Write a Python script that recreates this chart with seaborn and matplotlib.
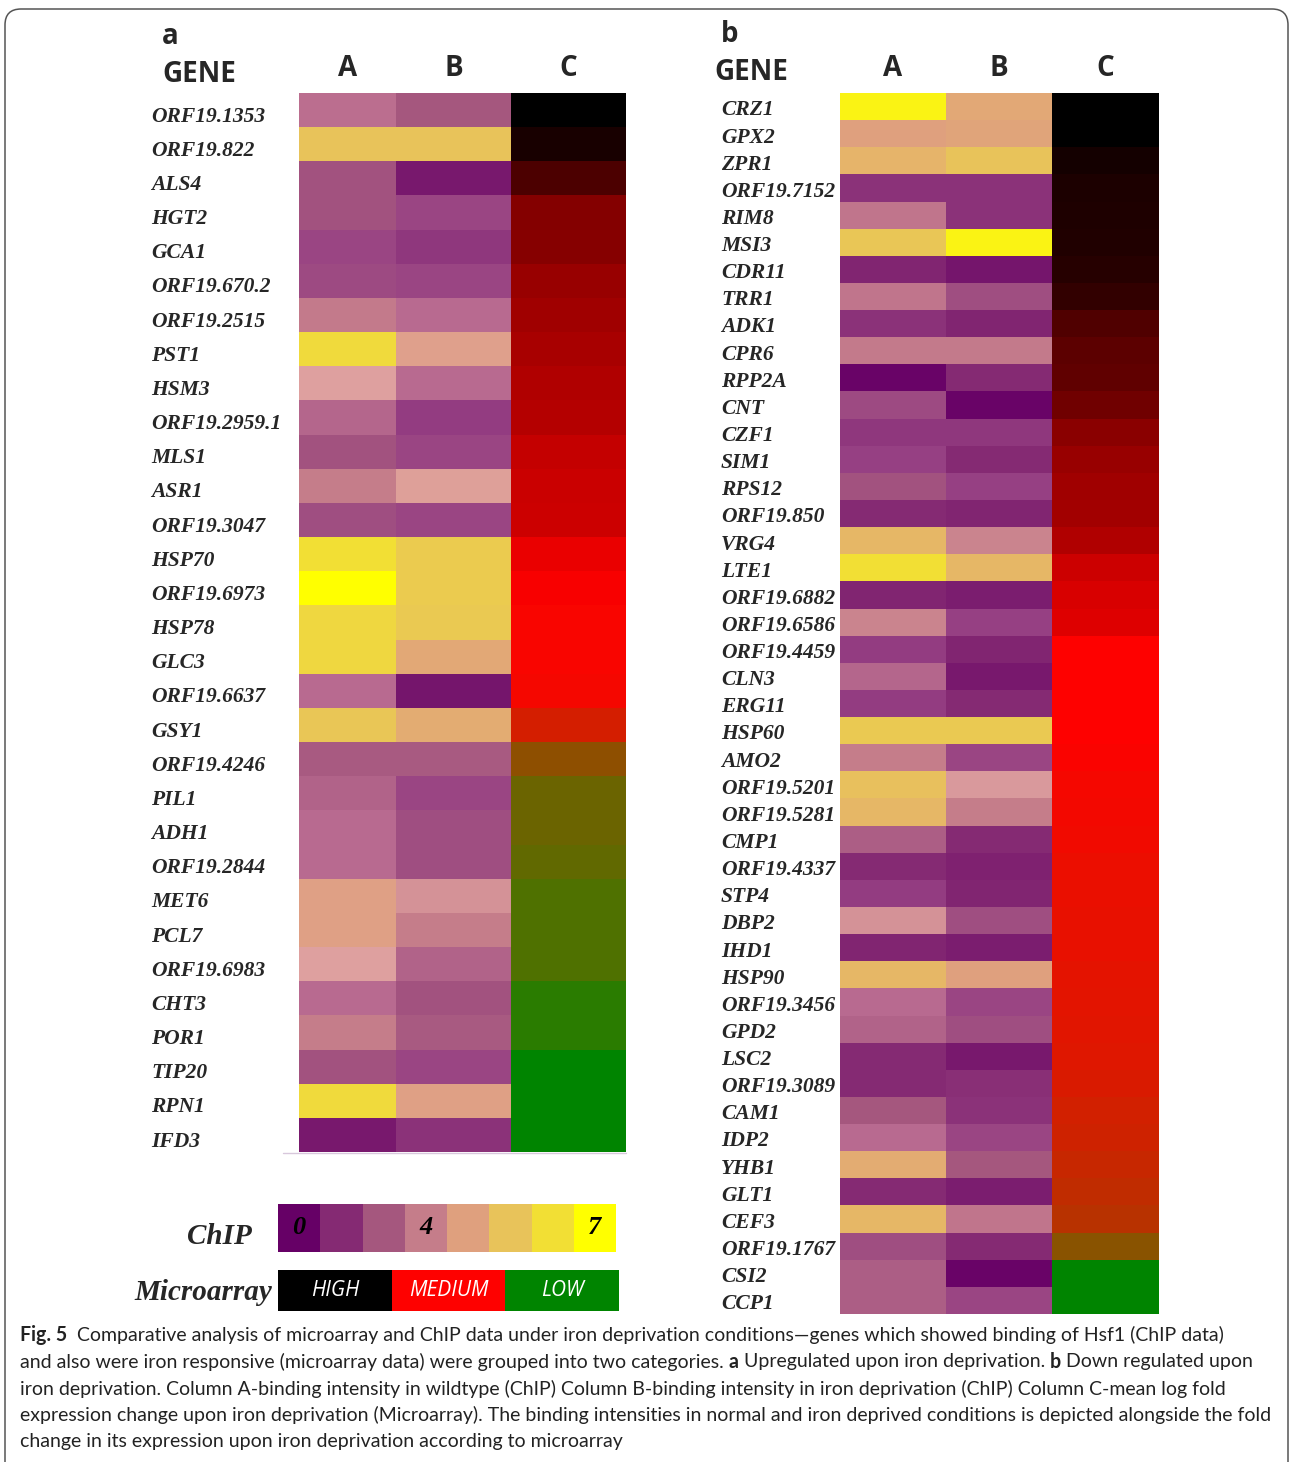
import numpy as np
import pandas as pd
import matplotlib
matplotlib.use("Agg")
import matplotlib.pyplot as plt
import matplotlib.transforms as mtransforms
from matplotlib.colors import LinearSegmentedColormap
from matplotlib.patches import FancyBboxPatch
import seaborn as sns

# ---------------- data ----------------
genes_a = ["ORF19.1353", "ORF19.822", "ALS4", "HGT2", "GCA1", "ORF19.670.2",
           "ORF19.2515", "PST1", "HSM3", "ORF19.2959.1", "MLS1", "ASR1",
           "ORF19.3047", "HSP70", "ORF19.6973", "HSP78", "GLC3", "ORF19.6637",
           "GSY1", "ORF19.4246", "PIL1", "ADH1", "ORF19.2844", "MET6", "PCL7",
           "ORF19.6983", "CHT3", "POR1", "TIP20", "RPN1", "IFD3"]
# ChIP binding intensity (0-7): wildtype (A) and iron deprivation (B)
chip_wt_a = [2.6, 5.0, 1.9, 1.9, 1.6, 1.7, 2.9, 5.8, 3.5, 2.4, 1.9, 3.0, 1.8,
             6.0, 7.0, 5.7, 5.7, 2.5, 5.1, 2.1, 2.3, 2.5, 2.5, 3.9, 3.9, 3.5,
             2.5, 3.0, 1.9, 5.8, 0.6]
chip_fe_a = [2.0, 5.0, 0.6, 1.6, 1.3, 1.6, 2.5, 3.8, 2.5, 1.4, 1.6, 3.6, 1.6,
             5.3, 5.3, 5.2, 4.2, 0.5, 4.3, 2.1, 1.6, 1.8, 1.8, 3.3, 3.0, 2.3,
             1.9, 2.1, 1.6, 3.9, 1.2]
# microarray expression change level (0 = high, 1 = medium, 2 = low)
fold_a = [0.0, 0.1, 0.3, 0.52, 0.53, 0.6, 0.63, 0.66, 0.69, 0.71, 0.77, 0.79,
          0.8, 0.92, 0.97, 1.03, 1.03, 1.04, 1.18, 1.48, 1.62, 1.62, 1.66, 1.73,
          1.73, 1.73, 1.86, 1.86, 2.0, 2.0, 2.0]

genes_b = ["CRZ1", "GPX2", "ZPR1", "ORF19.7152", "RIM8", "MSI3", "CDR11", "TRR1",
           "ADK1", "CPR6", "RPP2A", "CNT", "CZF1", "SIM1", "RPS12", "ORF19.850",
           "VRG4", "LTE1", "ORF19.6882", "ORF19.6586", "ORF19.4459", "CLN3",
           "ERG11", "HSP60", "AMO2", "ORF19.5201", "ORF19.5281", "CMP1",
           "ORF19.4337", "STP4", "DBP2", "IHD1", "HSP90", "ORF19.3456", "GPD2",
           "LSC2", "ORF19.3089", "CAM1", "IDP2", "YHB1", "GLT1", "CEF3",
           "ORF19.1767", "CSI2", "CCP1"]
chip_wt_b = [6.6, 4.0, 4.5, 1.2, 2.8, 5.1, 0.9, 2.8, 1.2, 2.9, 0.1, 1.7, 1.3,
             1.5, 1.9, 1.0, 4.6, 6.0, 0.9, 3.1, 1.4, 2.4, 1.4, 5.2, 3.0, 4.9,
             4.6, 2.2, 1.0, 1.4, 3.3, 0.9, 4.6, 2.5, 2.3, 1.0, 1.0, 2.0, 2.5,
             4.3, 1.0, 4.6, 1.8, 2.2, 2.2]
chip_fe_b = [4.2, 4.1, 5.0, 1.2, 1.2, 6.6, 0.5, 1.8, 0.9, 2.9, 1.0, 0.1, 1.3,
             1.0, 1.5, 0.9, 3.1, 4.6, 0.7, 1.5, 0.9, 0.6, 1.0, 5.2, 1.6, 3.4,
             3.0, 1.0, 0.8, 0.9, 1.8, 0.7, 4.0, 1.6, 1.8, 0.6, 1.1, 1.2, 1.6,
             2.0, 0.7, 2.8, 1.0, 0.1, 1.6]
fold_b = [0.0, 0.0, 0.08, 0.11, 0.12, 0.13, 0.15, 0.2, 0.32, 0.36, 0.38, 0.44,
          0.54, 0.6, 0.63, 0.64, 0.69, 0.8, 0.85, 0.87, 1.0, 1.0, 1.0, 1.0,
          1.02, 1.04, 1.05, 1.06, 1.08, 1.09, 1.1, 1.1, 1.11, 1.12, 1.13, 1.14,
          1.16, 1.19, 1.21, 1.24, 1.27, 1.3, 1.5, 2.0, 2.0]

column_names = ["A", "B", "C"]
chip_key_values = [0, 1, 2, 3, 4, 5, 6, 7]
chip_key_labels = ["0", "", "", "4", "", "", "", "7"]
array_key_values = [0, 1, 2]
array_key_labels = ["HIGH", "MEDIUM", "LOW"]

# ---------------- colour scales ----------------
chip_nodes = [(0.0, "#660066"), (1.0, "#852a73"), (1.5, "#974184"),
              (2.0, "#a5577e"), (2.5, "#b86a90"), (3.0, "#c57d8a"),
              (3.5, "#dea0a0"), (4.0, "#dfa07e"), (4.5, "#e6b46a"),
              (5.0, "#e8c35a"), (6.0, "#f2df35"), (7.0, "#ffff00")]
chip_cmap = LinearSegmentedColormap.from_list(
    "chip", [(v / 7.0, c) for v, c in chip_nodes])
array_cmap = LinearSegmentedColormap.from_list(
    "array", [(0.0, "#000000"), (0.5, "#ff0000"), (0.75, "#8a5200"),
              (0.825, "#646800"), (0.9, "#3f7800"), (1.0, "#008400")])

# ---------------- figure ----------------
sns.set_style("white")
W, H = 1290, 1462
fig = plt.figure(figsize=(W / 100, H / 100), dpi=100)
fig.patch.set_facecolor("white")

serif_bi = dict(family="Liberation Serif", weight="bold", style="italic")
sans_b = dict(family="Open Sans", weight="bold")


def px_axes(x0, x1, y0, y1):
    return fig.add_axes([x0 / W, 1 - y1 / H, (x1 - x0) / W, (y1 - y0) / H])


def heat_column(ax, values, cmap, vmin, vmax):
    sns.heatmap(pd.DataFrame({"v": values}), ax=ax, cmap=cmap, vmin=vmin,
                vmax=vmax, cbar=False, xticklabels=False, yticklabels=False)


def panel(letter, genes, wt, fe, fold, col_edges, y0, y1, label_x,
          letter_x, gene_x, header_y, tick_shift):
    cols = [wt, fe, fold]
    axes = []
    for i, vals in enumerate(cols):
        ax = px_axes(col_edges[i], col_edges[i + 1], y0, y1)
        if i < 2:
            heat_column(ax, vals, chip_cmap, 0, 7)
        else:
            heat_column(ax, vals, array_cmap, 0, 2)
        axes.append(ax)
        cx = (col_edges[i] + col_edges[i + 1]) / 2
        fig.text(cx / W, 1 - header_y / H, column_names[i], ha="center",
                 va="center", fontsize=20, **sans_b)
    ax = axes[0]
    n = len(genes)
    ax.set_yticks(np.arange(n) + 0.5 + tick_shift)
    ax.set_yticklabels(genes, ha="left", fontsize=15.5, **serif_bi)
    pad_pt = (col_edges[0] - label_x) * 72 / 100
    ax.tick_params(axis="y", length=0, pad=pad_pt, left=False)
    fig.text(letter_x / W, 1 - (header_y - 33) / H, letter, ha="left",
             va="center", fontsize=20, **sans_b)
    fig.text(gene_x / W, 1 - (header_y + 5) / H, "GENE", ha="left",
             va="center", fontsize=20, **sans_b)


panel("a", genes_a, chip_wt_a, chip_fe_a, fold_a,
      [299, 396, 511, 626], 93, 1152, 151, 162, 162, 69, 0.12)
panel("b", genes_b, chip_wt_b, chip_fe_b, fold_b,
      [840, 946, 1052, 1159], 93, 1314, 721, 721, 714, 68, 0.05)

# faint rule under panel a
fig.add_artist(plt.Line2D([283 / W, 626 / W], [1 - 1153 / H, 1 - 1153 / H],
                          color="#d8c8dc", linewidth=1.0))

# ---------------- keys ----------------
ax_chip = px_axes(278, 616, 1204, 1252)
sns.heatmap(pd.DataFrame([chip_key_values]), ax=ax_chip, cmap=chip_cmap,
            vmin=0, vmax=7, cbar=False, xticklabels=False, yticklabels=False,
            annot=np.array([chip_key_labels]), fmt="",
            annot_kws=dict(color="black", fontsize=19, **serif_bi))
fig.text(252 / W, 1 - 1236 / H, "ChIP", ha="right", va="center",
         fontsize=21, **serif_bi)

ax_arr = px_axes(278, 619, 1270, 1311)
sns.heatmap(pd.DataFrame([array_key_values]), ax=ax_arr, cmap=array_cmap,
            vmin=0, vmax=2, cbar=False, xticklabels=False, yticklabels=False,
            annot=np.array([array_key_labels]), fmt="",
            annot_kws=dict(color="white", fontsize=15, family="Open Sans",
                           style="italic"))
fig.text(272 / W, 1 - 1293 / H, "Microarray", ha="right", va="center",
         fontsize=21, **serif_bi)

# ---------------- caption ----------------
caption_lines = [
    [("Fig. 5", True), ("", False),
     ("Comparative analysis of microarray and ChIP data under iron deprivation "
      "conditions\u2014genes which showed binding of Hsf1 (ChIP data)", False)],
    [("and also were iron responsive (microarray data) were grouped into two "
      "categories.", False), ("a", True),
     ("Upregulated upon iron deprivation.", False), ("b", True),
     ("Down regulated upon", False)],
    [("iron deprivation. Column A-binding intensity in wildtype (ChIP) Column "
      "B-binding intensity in iron deprivation (ChIP) Column C-mean log fold",
      False)],
    [("expression change upon iron deprivation (Microarray). The binding "
      "intensities in normal and iron deprived conditions is depicted "
      "alongside the fold", False)],
    [("change in its expression upon iron deprivation according to microarray",
      False)],
]
caption_y = [1335, 1362, 1389, 1415, 1442]
cap_font = "Lato"
renderer = fig.canvas.get_renderer()


def text_width(s, size, bold):
    t = fig.text(0, 0, s, fontsize=size, family=cap_font,
                 weight="bold" if bold else "normal")
    w = t.get_window_extent(renderer=renderer).width
    t.remove()
    return w


# fit the longest caption line to the text block width
widest = "".join(s for s, _ in caption_lines[3])
cap_size = 12.0
for _ in range(3):
    cap_size *= 1250 / text_width(widest, cap_size, False)
space_w = text_width("x x", cap_size, False) - text_width("xx", cap_size, False)

for segs, yy in zip(caption_lines, caption_y):
    x = 20
    for k, (s, bold) in enumerate(segs):
        if k > 0:
            x += space_w
        if s:
            t = fig.text(x / W, 1 - yy / H, s, fontsize=cap_size,
                         family=cap_font, weight="bold" if bold else "normal",
                         ha="left", va="center", color="#222222")
            x += t.get_window_extent(renderer=renderer).width

# outer frame with rounded corners
frame = FancyBboxPatch((5, -40), 1283, 1493,
                       boxstyle="round,pad=0,rounding_size=16",
                       transform=mtransforms.IdentityTransform(),
                       facecolor="none", edgecolor="#555555", linewidth=1.1)
fig.add_artist(frame)

fig.savefig("out.png", dpi=100)
